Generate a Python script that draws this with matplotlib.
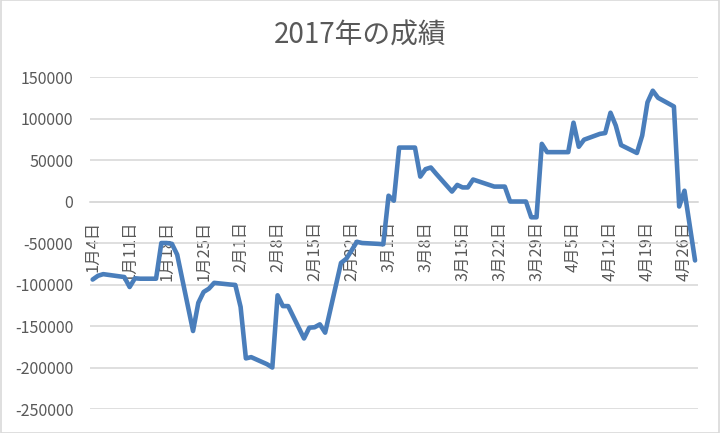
import matplotlib.pyplot as plt
from matplotlib.patches import Rectangle
import datetime as dt

plt.rcParams['font.family'] = ['Noto Sans CJK JP', 'DejaVu Sans']

# trading days and running result
dates = [
    "2017-01-04", "2017-01-05", "2017-01-06", "2017-01-10", "2017-01-11",
    "2017-01-12", "2017-01-13", "2017-01-16", "2017-01-17", "2017-01-18",
    "2017-01-19", "2017-01-20", "2017-01-23", "2017-01-24", "2017-01-25",
    "2017-01-26", "2017-01-27", "2017-01-30", "2017-01-31", "2017-02-01",
    "2017-02-02", "2017-02-03", "2017-02-06", "2017-02-07", "2017-02-08",
    "2017-02-09", "2017-02-10", "2017-02-13", "2017-02-14", "2017-02-15",
    "2017-02-16", "2017-02-17", "2017-02-20", "2017-02-21", "2017-02-22",
    "2017-02-23", "2017-02-24", "2017-02-27", "2017-02-28", "2017-03-01",
    "2017-03-02", "2017-03-03", "2017-03-06", "2017-03-07", "2017-03-08",
    "2017-03-09", "2017-03-10", "2017-03-13", "2017-03-14", "2017-03-15",
    "2017-03-16", "2017-03-17", "2017-03-21", "2017-03-22", "2017-03-23",
    "2017-03-24", "2017-03-27", "2017-03-28", "2017-03-29", "2017-03-30",
    "2017-03-31", "2017-04-03", "2017-04-04", "2017-04-05", "2017-04-06",
    "2017-04-07", "2017-04-10", "2017-04-11", "2017-04-12", "2017-04-13",
    "2017-04-14", "2017-04-17", "2017-04-18", "2017-04-19", "2017-04-20",
    "2017-04-21", "2017-04-24", "2017-04-25", "2017-04-26", "2017-04-27",
    "2017-04-28",
]
values = [
    -94000, -89500, -87500, -91000, -103000,
    -92500, -93000, -93000, -50000, -50000,
    -51000, -64000, -156000, -122000, -109000,
    -105000, -98000, -100000, -100500, -127000,
    -189000, -187500, -196000, -200000, -113000,
    -126000, -126000, -165000, -152000, -151500,
    -148000, -158000, -74000, -69000, -59000,
    -48500, -50000, -51000, -51500, 7000,
    1000, 65000, 65000, 30000, 39000,
    41000, 33500, 12000, 20000, 17000,
    17000, 26500, 18000, 18000, 18000,
    0, 0, -19000, -19000, 69500,
    59500, 59500, 59500, 95000, 66000,
    74500, 81500, 82500, 107000, 91500,
    68000, 58500, 79500, 119500, 133500,
    125000, 114500, -6000, 13000, -29000,
    -71000,
]
y_ticks = [150000, 100000, 50000, 0, -50000, -100000, -150000, -200000, -250000]

x = [dt.datetime.strptime(d, "%Y-%m-%d") for d in dates]
text_col = '#595959'
grid_col = '#D9D9D9'

fig = plt.figure(figsize=(7.2, 4.33), dpi=100)
ax = fig.add_axes([0.125, 0.0554, 0.844, 0.7667])

ax.plot(x, values, color='#4A7EBB', lw=3.3, solid_joinstyle='round',
        solid_capstyle='round', zorder=3)

# axis line through zero (must come before tick setup, it resets ticks)
for s in ['top', 'left', 'right']:
    ax.spines[s].set_visible(False)
ax.spines['bottom'].set_position(('data', 0))
ax.spines['bottom'].set_color(grid_col)
ax.spines['bottom'].set_linewidth(1.2)
ax.spines['bottom'].set_zorder(1)

ax.set_ylim(-250000, 150000)
ax.set_yticks(y_ticks)
ax.set_yticklabels([str(v) for v in y_ticks])
ax.yaxis.grid(True, color=grid_col, lw=1.2)
ax.set_axisbelow(True)

half = dt.timedelta(hours=12)
ax.set_xlim(x[0] - half, x[-1] + half)
xt = []
d = x[0]
while d <= x[-1]:
    xt.append(d)
    d += dt.timedelta(days=7)
ax.set_xticks(xt)
ax.set_xticklabels([f"{t.month}月{t.day}日" for t in xt])

ax.tick_params(axis='x', length=0, pad=14, labelsize=11.8, labelcolor=text_col,
               labelrotation=90)
ax.tick_params(axis='y', length=0, pad=12, labelsize=11.5, labelcolor=text_col)

fig.text(0.5, 0.917, "2017年の成績", ha='center', va='center',
         fontsize=20, color=text_col)

fig.patches.append(Rectangle((0.001, 0.001), 0.998, 0.998, transform=fig.transFigure,
                             fill=False, edgecolor=grid_col, lw=1.2))

fig.savefig('out.png', dpi=100)
